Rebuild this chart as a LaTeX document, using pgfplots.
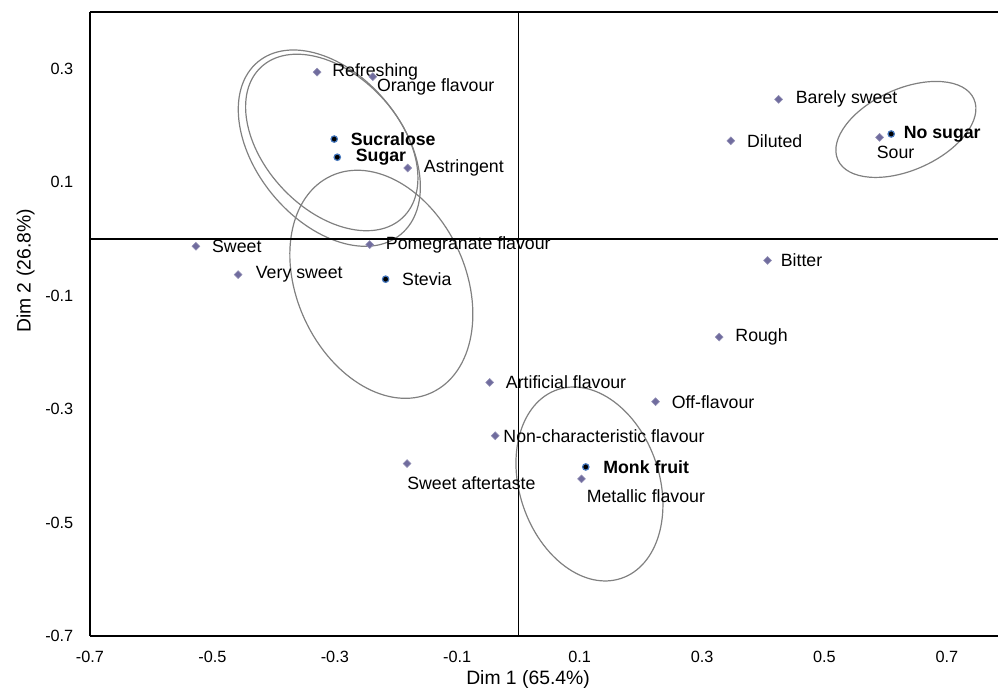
\documentclass[border=0pt]{standalone}
\usepackage{pgfplots}
\pgfplotsset{compat=1.18}
\usepackage{pgfplotstable}
\usepackage{fontspec}
\setmainfont{Liberation Sans}

\definecolor{attr}{RGB}{112,108,158}
\definecolor{prodring}{RGB}{70,120,190}
\definecolor{ellgray}{RGB}{128,128,128}
\newcommand{\lbl}{\fontsize{13.3}{15}\selectfont}
\newcommand{\tkl}{\fontsize{12.2}{14}\selectfont}
\newcommand{\ttl}{\fontsize{14.5}{17}\selectfont}
\tikzset{label node/.style={anchor=west, inner sep=0pt, text=black, font=\lbl}}

% attributes: coordinates, label offset (dx right, dy down, in px), label
\pgfplotstableread[col sep=comma]{
x,y,dx,dy,label
-0.329,0.294,15,0,Refreshing
-0.238,0.286,4,10.5,Orange flavour
-0.181,0.125,16,0,Astringent
-0.527,-0.013,16,0,Sweet
-0.458,-0.063,17.5,0,Very sweet
-0.243,-0.010,16,0,Pomegranate flavour
-0.047,-0.253,16,0,Artificial flavour
0.224,-0.287,16,0,Off-flavour
-0.038,-0.347,8,0,Non-characteristic flavour
-0.182,-0.396,0,20,Sweet aftertaste
0.103,-0.423,5,17,Metallic flavour
0.407,-0.038,13,0,Bitter
0.328,-0.173,16,0,Rough
0.425,0.246,17,0,Barely sweet
0.347,0.173,16,0,Diluted
0.590,0.179,-3,15,Sour
}\attributes

% sweeteners (products)
\pgfplotstableread[col sep=comma]{
x,y,dx,dy,label
-0.301,0.176,16,0,Sucralose
-0.296,0.144,18,0,Sugar
0.110,-0.402,17,0,Monk fruit
0.609,0.185,12,0,No sugar
}\productsbold

\pgfplotstableread[col sep=comma]{
x,y,dx,dy,label
-0.217,-0.071,16,0,Stevia
}\productsplain

\begin{document}
\begin{tikzpicture}
\begin{axis}[
  scale only axis, width=681pt, height=468pt,
  at={(0,0)}, anchor=south west,
  xmin=-0.7, xmax=0.7835, ymin=-0.7, ymax=0.4,
  axis lines=left, axis line style={-, line width=0.8pt},
  xtick={-0.7,-0.5,-0.3,-0.1,0.1,0.3,0.5,0.7},
  ytick={-0.7,-0.5,-0.3,-0.1,0.1,0.3},
  major tick length=0pt,
  /pgf/number format/assume math mode=true,
  /pgf/number format/fixed, /pgf/number format/precision=1,
  /pgf/number format/fixed zerofill,
  tick label style={font=\tkl},
  xticklabel style={yshift=-7.5pt},
  yticklabel style={xshift=-9pt},
  xlabel={Dim 1 (65.4\%)},
  ylabel={Dim 2 (26.8\%)},
  xlabel style={at={(axis description cs:0.4824,-0.0705)}, anchor=center, font=\ttl},
  ylabel style={at={(axis description cs:-0.0710,0.585)}, anchor=center, rotate=0, font=\ttl},
  clip mode=individual,
]
% confidence ellipses
\begin{scope}[ellgray, line width=0.9pt]
\draw[rotate around={-50.4:(axis cs:-0.309,0.160)}] (axis cs:-0.309,0.160) ellipse [x radius=84pt, y radius=55pt];
\draw[rotate around={-46.7:(axis cs:-0.305,0.170)}] (axis cs:-0.305,0.170) ellipse [x radius=77.5pt, y radius=50.5pt];
\draw[rotate around={-65.1:(axis cs:-0.224,-0.080)}] (axis cs:-0.224,-0.080) ellipse [x radius=89.6pt, y radius=63.2pt];
\draw[rotate around={-71.3:(axis cs:0.116,-0.432)}] (axis cs:0.116,-0.432) ellipse [x radius=74.7pt, y radius=52.4pt];
\draw[rotate around={24.1:(axis cs:0.633,0.193)}] (axis cs:0.633,0.193) ellipse [x radius=55.9pt, y radius=30.5pt];
\end{scope}

% origin lines and top frame
\draw[black, line width=0.9pt] (axis cs:-0.7,0) -- (axis cs:0.7835,0);
\draw[black, line width=0.9pt] (axis cs:0,-0.7) -- (axis cs:0,0.4);
\draw[black, line width=0.8pt] (rel axis cs:0,1) -- (rel axis cs:1,1);

% attributes
\addplot[only marks, mark=square*, mark size=2.1pt,
  mark options={rotate=45, fill=attr, draw=attr!75!white, line width=0.4pt},
  point meta=explicit symbolic,
  visualization depends on={\thisrow{dx}\as\ldx},
  visualization depends on={\thisrow{dy}\as\ldy},
  nodes near coords,
  every node near coord/.style={label node, xshift=\ldx*0.75pt, yshift=-\ldy*0.75pt}]
  table[x=x, y=y, meta=label] {\attributes};

% products
\addplot[only marks, mark=*, mark size=2.4pt,
  mark options={fill=black, draw=prodring, line width=0.9pt},
  point meta=explicit symbolic,
  visualization depends on={\thisrow{dx}\as\ldx},
  visualization depends on={\thisrow{dy}\as\ldy},
  nodes near coords,
  every node near coord/.style={label node, font=\lbl\bfseries, xshift=\ldx*0.75pt, yshift=-\ldy*0.75pt}]
  table[x=x, y=y, meta=label] {\productsbold};
\addplot[only marks, mark=*, mark size=2.4pt,
  mark options={fill=black, draw=prodring, line width=0.9pt},
  point meta=explicit symbolic,
  visualization depends on={\thisrow{dx}\as\ldx},
  visualization depends on={\thisrow{dy}\as\ldy},
  nodes near coords,
  every node near coord/.style={label node, xshift=\ldx*0.75pt, yshift=-\ldy*0.75pt}]
  table[x=x, y=y, meta=label] {\productsplain};
\end{axis}
\pgfresetboundingbox
\path[use as bounding box] (-67.5pt,-46.5pt) rectangle (681pt,477pt);
\end{tikzpicture}
\end{document}
